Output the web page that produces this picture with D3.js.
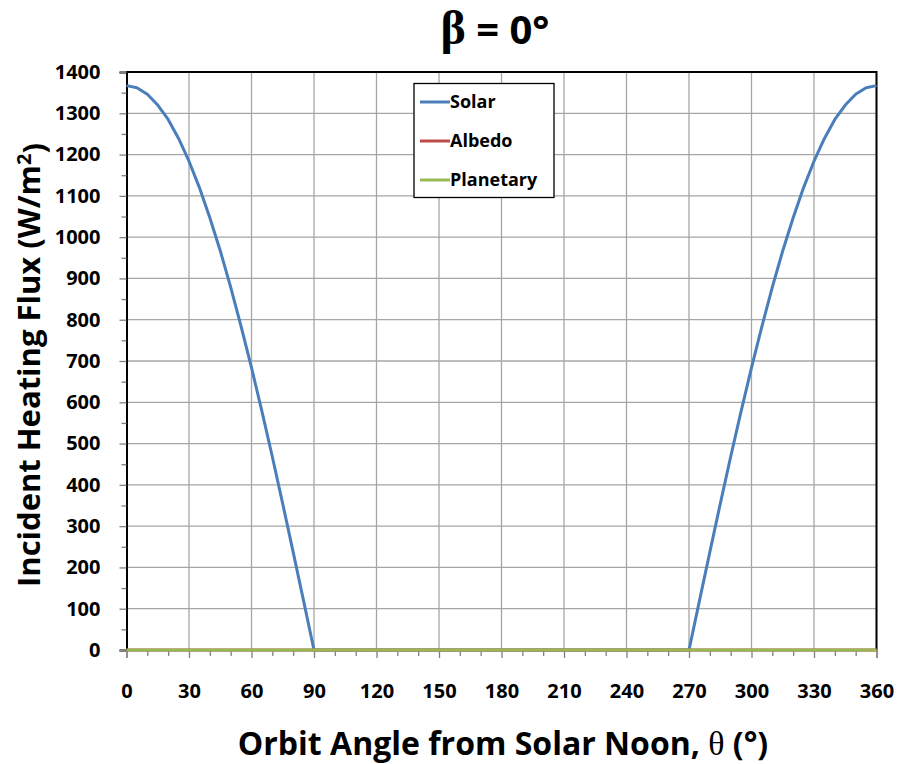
<!DOCTYPE html>
<html>
<head>
<meta charset="utf-8">
<script src="https://cdn.jsdelivr.net/npm/d3@7"></script>
<style>
  body { margin: 0; background: #fff; }
  text { font-family: "Open Sans", "DejaVu Sans", sans-serif; font-weight: bold; fill: #000; }
  .greek { font-family: "Liberation Serif", "DejaVu Serif", serif; font-weight: normal; }
</style>
</head>
<body>
<svg id="chart" width="899" height="764"></svg>
<script>
// Orbit angle (deg) sampled every 5 degrees
const angles = d3.range(0, 361, 5);
// Incident flux (W/m^2), one value per angle above
const solar = [
  1367, 1362, 1346, 1320, 1285, 1239, 1184, 1120, 1047, 967, 879, 784, 684, 578, 468, 354, 237, 119, 0,
  0, 0, 0, 0, 0, 0, 0, 0, 0, 0, 0, 0, 0, 0, 0, 0, 0, 0,
  0, 0, 0, 0, 0, 0, 0, 0, 0, 0, 0, 0, 0, 0, 0, 0, 0, 0,
  119, 237, 354, 468, 578, 684, 784, 879, 967, 1047, 1120, 1184, 1239, 1285, 1320, 1346, 1362, 1367
];
const albedo = [
  0, 0, 0, 0, 0, 0, 0, 0, 0, 0, 0, 0, 0, 0, 0, 0, 0, 0, 0,
  0, 0, 0, 0, 0, 0, 0, 0, 0, 0, 0, 0, 0, 0, 0, 0, 0, 0,
  0, 0, 0, 0, 0, 0, 0, 0, 0, 0, 0, 0, 0, 0, 0, 0, 0, 0,
  0, 0, 0, 0, 0, 0, 0, 0, 0, 0, 0, 0, 0, 0, 0, 0, 0, 0
];
const planetary = [
  0, 0, 0, 0, 0, 0, 0, 0, 0, 0, 0, 0, 0, 0, 0, 0, 0, 0, 0,
  0, 0, 0, 0, 0, 0, 0, 0, 0, 0, 0, 0, 0, 0, 0, 0, 0, 0,
  0, 0, 0, 0, 0, 0, 0, 0, 0, 0, 0, 0, 0, 0, 0, 0, 0, 0,
  0, 0, 0, 0, 0, 0, 0, 0, 0, 0, 0, 0, 0, 0, 0, 0, 0, 0
];

const seriesNames = ["Solar", "Albedo", "Planetary"];
const seriesColors = ["#4a7ebb", "#be4b48", "#98b954"];
const xTicks = d3.range(0, 361, 30);
const yTicks = d3.range(0, 1401, 100);

const svg = d3.select("#chart");
const m = { left: 126.5, right: 876.5, top: 72, bottom: 650 };
const x = d3.scaleLinear().domain([0, 360]).range([m.left, m.right]);
const y = d3.scaleLinear().domain([0, 1400]).range([m.bottom, m.top]);

// gridlines
const grid = svg.append("g").attr("stroke", "#a6a6a6").attr("stroke-width", 1.3);
xTicks.slice(1).forEach(t => grid.append("line")
  .attr("x1", x(t)).attr("x2", x(t)).attr("y1", m.top).attr("y2", m.bottom));
yTicks.slice(1).forEach(t => grid.append("line")
  .attr("x1", m.left).attr("x2", m.right).attr("y1", y(t)).attr("y2", y(t)));

// frame: top and right edges
svg.append("path")
  .attr("d", `M${m.left},${m.top}H${m.right}V${m.bottom}`)
  .attr("fill", "none").attr("stroke", "#000").attr("stroke-width", 2);

// y axis
const yAxis = svg.append("g").attr("transform", `translate(${m.left},0)`)
  .call(d3.axisLeft(y).tickValues(yTicks).tickSize(7).tickFormat(d3.format("d")));
yAxis.select(".domain").attr("stroke", "#000").attr("stroke-width", 2);
yAxis.selectAll(".tick line").attr("stroke", "#808080").attr("stroke-width", 1.3);
yAxis.selectAll("text").attr("x", -26).style("font-size", "20px");
svg.append("g").attr("transform", `translate(${m.left},0)`)
  .call(d3.axisLeft(y).tickValues(d3.range(50, 1400, 100)).tickSize(5).tickFormat(""))
  .call(g => g.select(".domain").remove())
  .selectAll(".tick line").attr("stroke", "#808080").attr("stroke-width", 1.3);

// x axis
const xAxis = svg.append("g").attr("transform", `translate(0,${m.bottom})`)
  .call(d3.axisBottom(x).tickValues(xTicks).tickSize(8).tickFormat(d3.format("d")));
xAxis.select(".domain").attr("stroke", "#808080").attr("stroke-width", 1.3);
xAxis.selectAll(".tick line").attr("stroke", "#808080").attr("stroke-width", 1.3);
xAxis.selectAll("text").attr("y", 48).attr("dy", 0).style("font-size", "20px");
svg.append("g").attr("transform", `translate(0,${m.bottom})`)
  .call(d3.axisBottom(x).tickValues(d3.range(0, 361, 10).filter(d => d % 30 !== 0)).tickSize(6).tickFormat(""))
  .call(g => g.select(".domain").remove())
  .selectAll(".tick line").attr("stroke", "#808080").attr("stroke-width", 1.3);

// series lines
const line = d3.line().x((d, i) => x(angles[i])).y(d => y(d));
[solar, albedo, planetary].forEach((s, k) => {
  svg.append("path").datum(s).attr("d", line)
    .attr("fill", "none").attr("stroke", seriesColors[k])
    .attr("stroke-width", 3).attr("stroke-linejoin", "round");
});

// legend
const lg = svg.append("g");
lg.append("rect").attr("x", 414).attr("y", 83.5).attr("width", 140).attr("height", 114)
  .attr("fill", "#fff").attr("stroke", "#000").attr("stroke-width", 1.3);
seriesNames.forEach((n, i) => {
  const yy = 102 + i * 39;
  lg.append("line").attr("x1", 420).attr("x2", 450).attr("y1", yy).attr("y2", yy)
    .attr("stroke", seriesColors[i]).attr("stroke-width", 3);
  lg.append("text").attr("x", 450).attr("y", yy).attr("dy", "0.36em")
    .style("font-size", "18px").text(n);
});

// titles
const tt = svg.append("text").attr("x", 495).attr("y", 44).attr("text-anchor", "middle")
  .style("font-size", "40px");
tt.append("tspan").attr("class", "greek").style("font-size", "48px").style("font-weight", "bold").text("β");
tt.append("tspan").text(" = 0°");

const xt = svg.append("text").attr("x", 503).attr("y", 755).attr("text-anchor", "middle")
  .style("font-size", "32px");
xt.append("tspan").text("Orbit Angle from Solar Noon, ");
xt.append("tspan").attr("class", "greek").style("font-size", "34px").text("θ");
xt.append("tspan").text(" (°)");

const yt = svg.append("text").attr("transform", "translate(40,365) rotate(-90)")
  .attr("text-anchor", "middle").style("font-size", "31px");
yt.append("tspan").text("Incident Heating Flux (W/m");
yt.append("tspan").attr("dy", "-0.45em").style("font-size", "20px").text("2");
yt.append("tspan").attr("dy", "0.45em").text(")");
</script>
</body>
</html>
